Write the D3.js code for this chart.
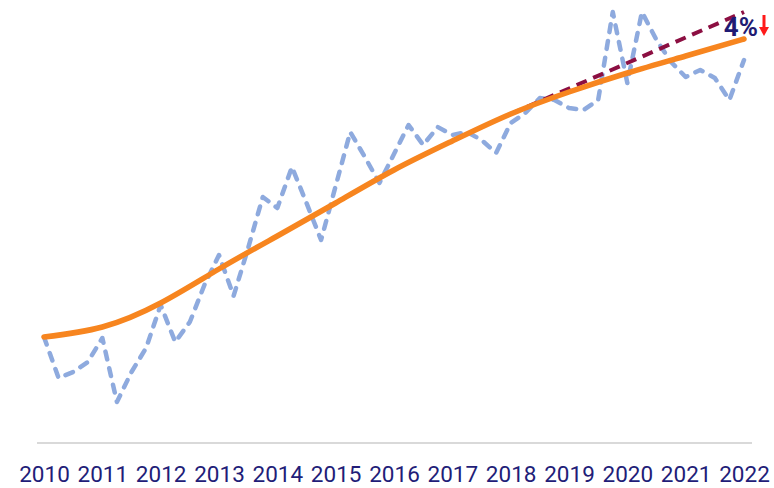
<!DOCTYPE html>
<html>
<head>
<meta charset="utf-8">
<script src="https://cdn.jsdelivr.net/npm/d3@7"></script>
<style>
  body { margin: 0; background: #fff; }
  svg { display: block; font-family: Roboto, "Noto Sans", sans-serif; }
</style>
</head>
<body>
<div id="chart"></div>
<script>
// chart size
var width = 774;
var height = 488;

// tick labels (years)
var years = [2010, 2011, 2012, 2013, 2014, 2015, 2016, 2017, 2018, 2019, 2020, 2021, 2022];

// quarterly series (dashed blue), from 2010 Q1 up to 2022 Q1
var quarterly = [
  26.5, 16.25, 17.75, 20.25,
  26.25, 10.25, 17.75, 23.75,
  34.5, 25.25, 30.25, 39.5,
  47, 36.75, 48.75, 61.5,
  58.75, 69, 60, 50.75,
  64.25, 77.75, 71.5, 65,
  72.25, 79.5, 74.5, 79,
  77, 77.75, 75.75, 72.5,
  80, 82.5, 86.25, 85.75,
  83.75, 83.25, 85.75, 107.75,
  90, 107.75, 100.75, 95.25,
  91.5, 93.25, 91.25, 85.75,
  95.75
];

// smoothed trend (orange), one per year
var trend = [26.5, 29, 35, 43.5, 51.75, 60, 68.25, 75.5, 82.25, 87.75, 92.5, 96.75, 101];

// projected trend (dashed red)
var projYears = [2018, 2022];
var projection = [82.25, 107.75];

var changeLabel = "4%";

var svg = d3.select("#chart")
  .append("svg")
  .attr("width", width)
  .attr("height", height);

var x = d3.scaleLinear().domain([2010, 2022]).range([44, 744]);
var y = d3.scaleLinear().domain([0, 110]).range([443, 3]);

var quarterData = quarterly.map(function(v, i) { return {t: 2010 + i / 4, v: v}; });
var trendData = trend.map(function(v, i) { return {t: years[i], v: v}; });
var projData = projection.map(function(v, i) { return {t: projYears[i], v: v}; });

// axis baseline
svg.append("line")
  .attr("x1", x(2010) - 7)
  .attr("x2", x(2022) + 8)
  .attr("y1", y(0))
  .attr("y2", y(0))
  .attr("stroke", "#d9d9d9")
  .attr("stroke-width", 2);

// year labels
var xAxis = svg.append("g")
  .attr("transform", `translate(0, ${y(0)})`)
  .call(d3.axisBottom(x).tickValues(years).tickFormat(d3.format("d")).tickSize(0));
xAxis.select(".domain").remove();
xAxis.selectAll("text")
  .attr("y", 39)
  .attr("dy", 0)
  .attr("fill", "#221d78")
  .style("font-size", "22.5px")
  .style("font-family", "Roboto, sans-serif");

// quarterly dashed line
svg.append("path")
  .datum(quarterData)
  .attr("fill", "none")
  .attr("stroke", "#8eaade")
  .attr("stroke-width", 4.5)
  .attr("stroke-linecap", "round")
  .attr("stroke-linejoin", "round")
  .attr("stroke-dasharray", "8,9")
  .attr("d", d3.line().x(d => x(d.t)).y(d => y(d.v)));

// projection dashed line
svg.append("path")
  .datum(projData)
  .attr("fill", "none")
  .attr("stroke", "#8c0f42")
  .attr("stroke-width", 4)
  .attr("stroke-dasharray", "11,7")
  .attr("d", d3.line().x(d => x(d.t)).y(d => y(d.v)));

// smooth trend
svg.append("path")
  .datum(trendData)
  .attr("fill", "none")
  .attr("stroke", "#f7851f")
  .attr("stroke-width", 5.5)
  .attr("stroke-linecap", "round")
  .attr("d", d3.line().x(d => x(d.t)).y(d => y(d.v)).curve(d3.curveNatural));

// change label + red arrow
var endX = x(2022);
svg.append("text")
  .attr("x", endX + 14)
  .attr("y", 36)
  .attr("text-anchor", "end")
  .attr("fill", "#1f1a73")
  .style("font-size", "26px")
  .style("font-weight", "bold")
  .text(changeLabel);

var ax = endX + 20;
svg.append("line")
  .attr("x1", ax).attr("x2", ax)
  .attr("y1", 15).attr("y2", 28)
  .attr("stroke", "#ff1a1a")
  .attr("stroke-width", 3);
svg.append("path")
  .attr("d", `M${ax - 5},27 L${ax + 5},27 L${ax},36 Z`)
  .attr("fill", "#ff1a1a");
</script>
</body>
</html>
